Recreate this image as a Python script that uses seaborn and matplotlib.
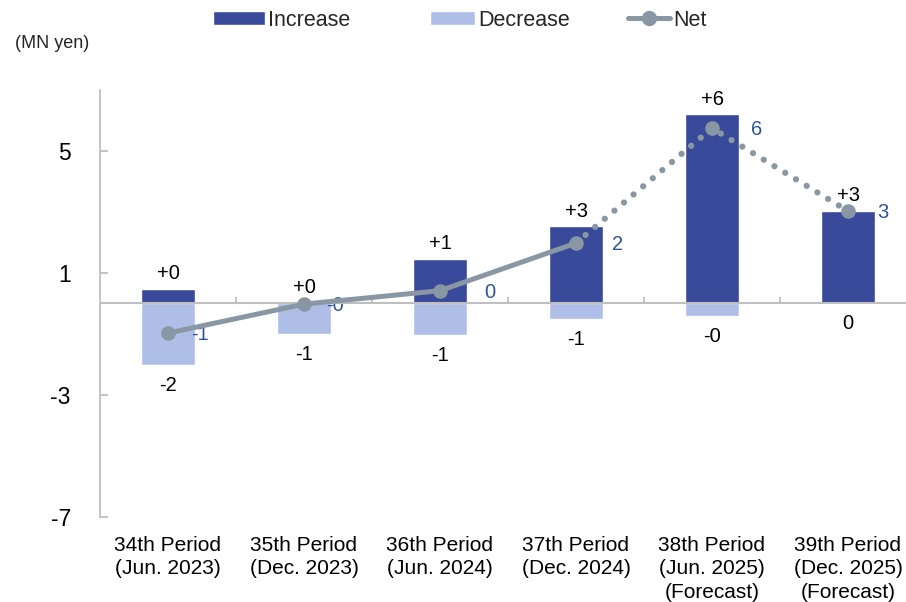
import numpy as np
import pandas as pd
import matplotlib
matplotlib.use("Agg")
import matplotlib.pyplot as plt
from matplotlib.patches import Patch
from matplotlib.lines import Line2D
import seaborn as sns

# ---- data -------------------------------------------------------------
categories = [
    "34th Period\n(Jun. 2023)",
    "35th Period\n(Dec. 2023)",
    "36th Period\n(Jun. 2024)",
    "37th Period\n(Dec. 2024)",
    "38th Period\n(Jun. 2025)\n(Forecast)",
    "39th Period\n(Dec. 2025)\n(Forecast)",
]
increase = [0.47, 0.02, 1.45, 2.52, 6.19, 3.03]
decrease = [-2.02, -1.02, -1.03, -0.51, -0.41, 0.0]
net = [-0.98, -0.03, 0.41, 1.97, 5.74, 3.02]
y_ticks = [-7, -3, 1, 5]
last_actual = 3  # index of the last non-forecast period

# ---- style ------------------------------------------------------------
sns.set_theme(style="white")
plt.rcParams["font.family"] = ["Liberation Sans", "DejaVu Sans"]

C_INC = "#3A4A9A"
C_DEC = "#AFBEE6"
C_NET = "#8997A5"
C_NET_TXT = "#2F5597"
C_AXIS = "#BFBFBF"

fig = plt.figure(figsize=(9.06, 6.02), dpi=100)
ax = fig.add_axes([100 / 906, 0.1417, 816 / 906, 0.7093])

df = pd.DataFrame({"period": categories, "increase": increase,
                   "decrease": decrease, "net": net})
df["pos"] = np.arange(len(df))

sns.barplot(data=df, x="period", y="increase", color=C_INC, width=0.4,
            saturation=1, ax=ax, zorder=2)
sns.barplot(data=df, x="period", y="decrease", color=C_DEC, width=0.4,
            saturation=1, ax=ax, zorder=2)

# net line: solid for actual periods, dotted for forecast periods
actual = df.iloc[: last_actual + 1]
forecast = df.iloc[last_actual:]
sns.lineplot(data=actual, x="pos", y="net", color=C_NET, lw=3.6, ax=ax,
             zorder=4, solid_capstyle="round")
fl = sns.lineplot(data=forecast, x="pos", y="net", color=C_NET, lw=4.5,
                  ax=ax, zorder=4)
fl.lines[-1].set_linestyle((0, (0.01, 2.0)))
fl.lines[-1].set_dash_capstyle("round")
ax.scatter(df["pos"], df["net"], s=110, color=C_NET, zorder=5, lw=0)

# value labels
for i, v in enumerate(increase):
    ax.annotate(f"{v:+.0f}", (i, v), xytext=(0, 4), textcoords="offset points",
                ha="center", va="bottom", fontsize=14.5, color="black")
for i, v in enumerate(decrease):
    ax.annotate(f"{v:.0f}", (i, v), xytext=(0, -8), textcoords="offset points",
                ha="center", va="top", fontsize=14.5, color="black")
net_dx = [17, 16, 32, 26, 28, 21]
for i, v in enumerate(net):
    ax.annotate(f"{v:.0f}", (i, v), xytext=(net_dx[i], -1),
                textcoords="offset points", ha="left", va="center",
                fontsize=14.5, color=C_NET_TXT)

# axes
ax.set_ylim(-7, 7)
ax.set_xlim(-0.5, len(categories) - 0.5)
ax.set_yticks(y_ticks)
ax.set_yticklabels([str(t) for t in y_ticks])
ax.set_xlabel("")
ax.set_ylabel("")
for s in ["top", "right", "bottom"]:
    ax.spines[s].set_visible(False)
ax.spines["left"].set_color(C_AXIS)
ax.spines["left"].set_linewidth(1.3)
ax.tick_params(axis="y", direction="in", length=6, width=1.3, color=C_AXIS,
               pad=21, labelsize=16.5, labelcolor="black", left=True)
ax.tick_params(axis="x", length=0, pad=14, labelsize=15, labelcolor="black")
for lbl in ax.get_xticklabels():
    lbl.set_linespacing(1.28)

# zero line with category separators
ax.axhline(0, color=C_AXIS, lw=1.5, zorder=3)
ax.vlines(np.arange(len(categories) - 1) + 0.5, 0, 0.2, color=C_AXIS,
          lw=1.3, zorder=3)

fig.text(15 / 906, 1 - 43 / 602, "(MN yen)", fontsize=13, va="center",
         ha="left")

# legend entries laid out across the top
entries = [
    (Patch(facecolor=C_INC), "Increase", 213, 2.4),
    (Patch(facecolor=C_DEC), "Decrease", 430, 2.1),
    (Line2D([], [], color=C_NET, lw=3.6, marker="o", markersize=10),
     "Net", 628, 1.95),
]
for handle, label, x0, hl in entries:
    fig.legend([handle], [label], loc="center left",
               bbox_to_anchor=(x0 / 906, 1 - 20 / 602), frameon=False,
               fontsize=15.5, handlelength=hl, handleheight=0.6,
               handletextpad=0.15, borderpad=0, borderaxespad=0)

fig.savefig("out.png", dpi=100)
